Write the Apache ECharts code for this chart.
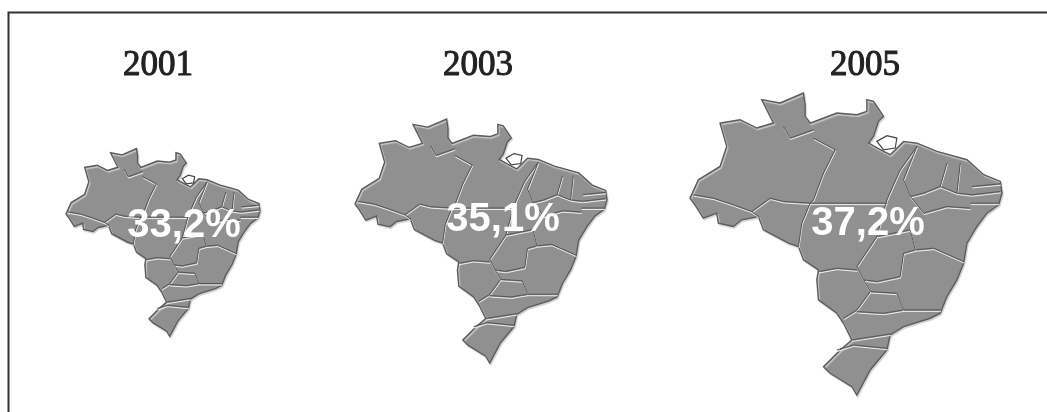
<!DOCTYPE html>
<html>
<head>
    <title>Brasil 2001 2003 2005</title>
    <script src="https://cdn.jsdelivr.net/npm/echarts@6/dist/echarts.min.js"></script>
    <style>
        html, body { margin: 0; padding: 0; background: #fff; }
        #chart { width: 1047px; height: 412px; }
    </style>
</head>
<body>
    <div id="chart"></div>
    <script>
        var years = ['2001', '2003', '2005'];
        var shares = ['33,2%', '35,1%', '37,2%'];

        // map shape
        var brazilOutline = [
            [275,60],[330,70],[400,40],[405,75],[405,110],[420,130],[500,100],[560,105],[590,95],[590,60],[610,65],
            [640,110],[625,125],[610,170],[595,190],[640,215],[660,225],[700,185],[740,190],[800,215],[890,240],
            [940,285],[990,305],[995,340],[985,375],[950,400],[920,440],[890,490],[880,550],[860,600],[830,650],
            [810,700],[780,715],[700,740],[660,765],[650,810],[600,870],[560,945],[545,920],[480,880],[460,860],
            [510,810],[545,780],[520,730],[500,700],[445,660],[440,600],[445,570],[400,540],[385,500],[355,490],
            [280,450],[265,410],[215,420],[190,440],[145,430],[140,400],[100,415],[75,375],[60,355],[85,300],
            [150,260],[170,200],[150,130],[210,120],[260,145],[310,130],[275,60]
        ];
        var island = [[620,185],[650,168],[680,175],[675,205],[640,210],[620,185]];
        var stateBorders = [
            [[70,345],[130,355],[190,375],[245,395],[300,355],[340,365],[420,370]],
            [[265,410],[245,395]],
            [[420,370],[395,430],[385,500]],
            [[340,140],[360,175],[430,150]],
            [[430,175],[495,210],[460,280],[430,360],[420,370]],
            [[420,370],[650,370]],
            [[740,200],[690,270],[650,360],[620,470],[560,560]],
            [[740,200],[700,300],[720,350],[760,340],[810,320],[830,250]],
            [[810,320],[860,340],[870,250]],
            [[860,340],[905,345],[990,335]],
            [[905,320],[990,312]],
            [[900,370],[985,370]],
            [[720,350],[760,400],[830,380],[900,385]],
            [[620,470],[720,450],[735,510],[700,520],[690,590],[620,605],[580,600],[560,560]],
            [[735,510],[790,505],[880,545]],
            [[445,575],[500,565],[560,570]],
            [[580,600],[600,635],[560,690],[520,715]],
            [[600,635],[680,640],[700,690],[810,690]],
            [[560,695],[640,700],[700,690]],
            [[545,780],[660,762]],
            [[500,810],[550,795],[650,805]]
        ];

        // where each map sits on the page
        var mapCenters = [[163, 242.5], [481, 241], [846, 244]];
        var mapSizes = [194, 252, 312];
        var yearCenters = [158, 478, 865];
        var shareCenters = [[184, 224], [503, 218], [868, 222]];

        var brazilGeo = {
            type: 'FeatureCollection',
            features: [
                { type: 'Feature', properties: { name: 'brasil' }, geometry: { type: 'Polygon', coordinates: [flip(brazilOutline)] } },
                { type: 'Feature', properties: { name: 'ilha' }, geometry: { type: 'Polygon', coordinates: [flip(island)] } },
                { type: 'Feature', properties: { name: 'estados' }, geometry: { type: 'MultiLineString', coordinates: stateBorders.map(flip) } }
            ]
        };

        function flip(points) {
            return points.map(function (p) { return [p[0], -p[1]]; });
        }

        echarts.registerMap('brasil', brazilGeo);

        var chart = echarts.init(document.getElementById('chart'));

        var option = {
            animation: false,
            graphic: [{
                type: 'polyline',
                shape: { points: [[8.5, 412], [8.5, 12.5], [1047, 12.5]] },
                style: { fill: 'none', stroke: '#333', lineWidth: 2 }
            }],
            title: [],
            geo: []
        };

        years.forEach(function (year, i) {
            option.geo.push({
                map: 'brasil',
                aspectScale: 1,
                layoutCenter: mapCenters[i],
                layoutSize: mapSizes[i],
                silent: true,
                label: { show: false },
                itemStyle: {
                    areaColor: '#909090',
                    borderColor: '#5c5c5c',
                    borderWidth: 1.4,
                    shadowColor: '#cfcfcf',
                    shadowOffsetX: 1,
                    shadowOffsetY: 1.5,
                    shadowBlur: 1
                },
                regions: [{
                    name: 'ilha',
                    itemStyle: { areaColor: '#fff', borderColor: '#444', borderWidth: 1.2, shadowBlur: 0, shadowOffsetX: 0, shadowOffsetY: 0 }
                }, {
                    name: 'estados',
                    itemStyle: { borderColor: '#555', borderWidth: 1, shadowColor: '#eee', shadowOffsetX: 0.5, shadowOffsetY: 1.5, shadowBlur: 0 }
                }]
            });
            option.title.push({
                text: year,
                left: yearCenters[i],
                top: 39,
                padding: 0,
                textAlign: 'center',
                textStyle: { fontFamily: 'Liberation Serif', fontSize: 35, fontWeight: 'normal', color: '#222', textBorderColor: '#222', textBorderWidth: 1 }
            });
            option.title.push({
                text: shares[i],
                left: shareCenters[i][0],
                top: shareCenters[i][1] - 32,
                padding: 0,
                textAlign: 'center',
                textStyle: { fontFamily: 'Liberation Sans', fontSize: 40, fontWeight: 'bold', color: '#fff' }
            });
        });

        chart.setOption(option);
    </script>
</body>
</html>
